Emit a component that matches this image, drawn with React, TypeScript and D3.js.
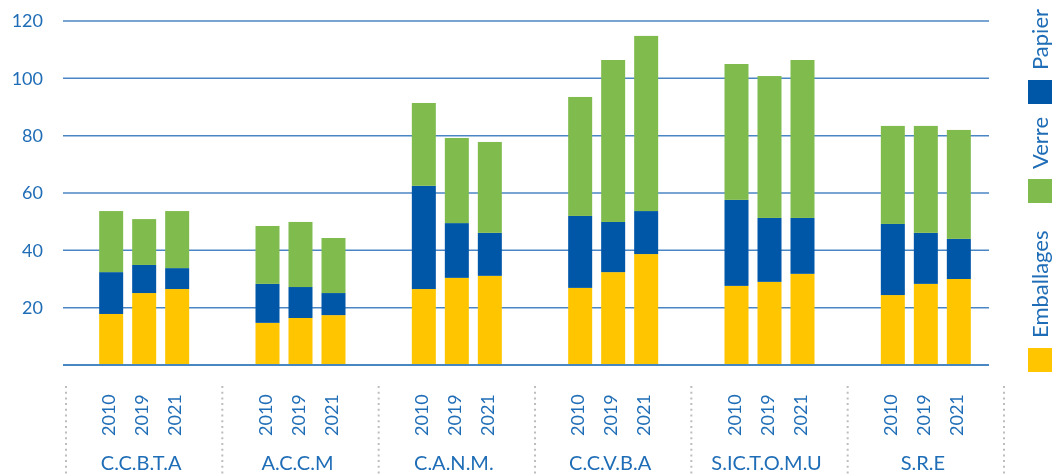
import React, { useEffect, useRef } from 'react';
import * as d3 from 'd3';

// Groups (collectivités) and years
const groups = ['C.C.B.T.A', 'A.C.C.M', 'C.A.N.M.', 'C.C.V.B.A', 'S.IC.T.O.M.U', 'S.R.E'];
const years = ['2010', '2019', '2021'];

// Segment values, in group order then year order
const emballages = [17.8, 25.1, 26.5, 14.7, 16.4, 17.4, 26.5, 30.4, 31.1, 26.9, 32.4, 38.7, 27.6, 29.0, 31.8, 24.4, 28.3, 30.0];
const papier = [14.6, 9.8, 7.3, 13.6, 10.8, 7.7, 36.0, 19.1, 15.0, 25.1, 17.5, 15.0, 30.0, 22.3, 19.5, 24.8, 17.8, 14.0];
const verre = [21.3, 16.0, 19.9, 20.2, 22.7, 19.2, 28.9, 29.7, 31.7, 41.5, 56.5, 61.1, 47.4, 49.5, 55.1, 34.2, 37.3, 38.0];

const yTicks = [20, 40, 60, 80, 100, 120];

const seriesKeys = ['Emballages', 'Papier', 'Verre'];
const legendKeys = ['Emballages', 'Verre', 'Papier'];
const colors = { Emballages: '#ffc600', Papier: '#0057a7', Verre: '#80bb4e' };

const FONT = 'Lato, "Open Sans", sans-serif';
const TEXT = '#1f6db6';

const App = () => {
  const svgRef = useRef<SVGSVGElement>(null);

  useEffect(() => {
    const svg = d3.select(svgRef.current);
    svg.selectAll('*').remove();

    const rows = groups.flatMap((g, gi) =>
      years.map((yr, yi) => {
        const i = gi * years.length + yi;
        return { group: g, year: yr, Emballages: emballages[i], Papier: papier[i], Verre: verre[i] };
      })
    );

    const y = d3.scaleLinear().domain([0, 120]).range([365, 21]);
    const x0 = d3.scaleBand().domain(groups).range([66, 1004]);
    const x1 = d3.scaleBand().domain(years).range([-45, 45]).paddingInner(9 / 33);
    const barX = (d) => x0(d.group) + x0.bandwidth() / 2 + x1(d.year);

    // Grid
    svg.append('g')
      .selectAll('line')
      .data([0, ...yTicks])
      .enter()
      .append('line')
      .attr('x1', 63)
      .attr('x2', 989)
      .attr('y1', (d) => y(d))
      .attr('y2', (d) => y(d))
      .attr('stroke', (d) => (d === 0 ? '#0b5fae' : '#4a86c4'))
      .attr('stroke-width', 1.5);

    svg.append('g')
      .selectAll('text')
      .data(yTicks)
      .enter()
      .append('text')
      .attr('x', 43)
      .attr('y', (d) => y(d))
      .attr('dy', '0.35em')
      .attr('text-anchor', 'end')
      .attr('fill', TEXT)
      .style('font-family', FONT)
      .style('font-size', '18px')
      .text((d) => d);

    // Stacked bars
    const stack = d3.stack().keys(seriesKeys)(rows);
    svg.append('g')
      .selectAll('g')
      .data(stack)
      .enter()
      .append('g')
      .attr('fill', (s) => colors[s.key])
      .selectAll('rect')
      .data((s) => s)
      .enter()
      .append('rect')
      .attr('x', (d) => barX(d.data))
      .attr('width', x1.bandwidth())
      .attr('y', (d) => y(d[1]))
      .attr('height', (d) => y(d[0]) - y(d[1]) - (d[0] === 0 ? 1 : 0));

    // Separators
    svg.append('g')
      .selectAll('line')
      .data([...groups.map((g) => x0(g)), x0.range()[1]])
      .enter()
      .append('line')
      .attr('x1', (d) => d)
      .attr('x2', (d) => d)
      .attr('y1', 386)
      .attr('y2', 476)
      .attr('stroke', '#bdbdbd')
      .attr('stroke-width', 2)
      .attr('stroke-dasharray', '2 3.7');

    // Year labels
    svg.append('g')
      .selectAll('text')
      .data(rows)
      .enter()
      .append('text')
      .attr('transform', (d) => `translate(${barX(d) + x1.bandwidth() / 2 - 2},436) rotate(-90)`)
      .attr('dy', '0.35em')
      .attr('fill', TEXT)
      .style('font-family', FONT)
      .style('font-size', '18px')
      .text((d) => d.year);

    // Group labels
    svg.append('g')
      .selectAll('text')
      .data(groups)
      .enter()
      .append('text')
      .attr('x', (d) => x0(d) + x0.bandwidth() / 2 - 3)
      .attr('y', 470)
      .attr('text-anchor', 'middle')
      .attr('fill', TEXT)
      .style('font-family', FONT)
      .style('font-size', '20px')
      .text((d) => d);

    // Legend, rotated (reads bottom to top)
    const legendOffsets = [0, 169, 268];
    const legend = svg.append('g').attr('transform', 'translate(1028,372) rotate(-90)');
    legendKeys.forEach((k, i) => {
      const item = legend.append('g').attr('transform', `translate(${legendOffsets[i]},0)`);
      item.append('rect').attr('width', 24).attr('height', 24).attr('fill', colors[k]);
      item.append('text')
        .attr('x', 34)
        .attr('y', 12)
        .attr('dy', '0.35em')
        .attr('fill', TEXT)
        .style('font-family', FONT)
        .style('font-size', '22px')
        .text(k);
    });
  }, []);

  return (
    <div style={{ position: 'fixed', top: 0, left: 0, width: 1062, height: 476, overflow: 'hidden' }}>
      <svg ref={svgRef} width={1062} height={476} style={{ display: 'block' }} />
    </div>
  );
};

export default App;
